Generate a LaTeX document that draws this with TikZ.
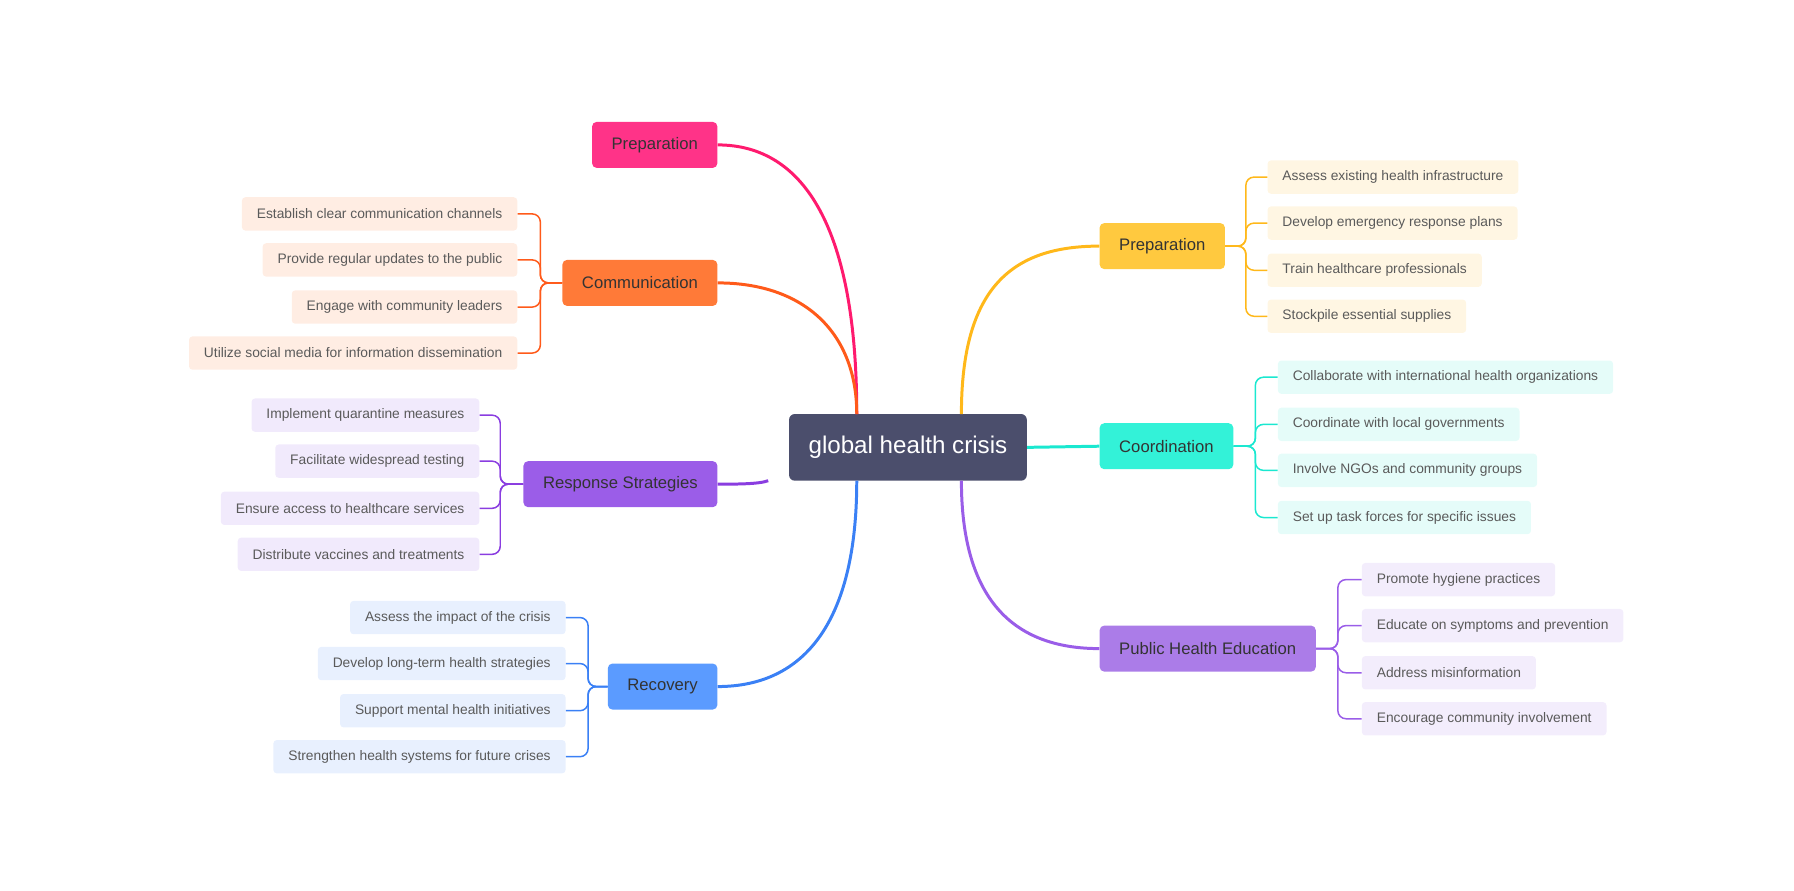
\documentclass[tikz,border=0pt]{standalone}
\usepackage{fontspec}
\setmainfont{Liberation Sans}
\begin{document}
\begin{tikzpicture}[x=1pt,y=-1pt,
 rootbox/.style={fill=rootc,rounded corners=5pt,text=white,font=\fontsize{21}{24}\selectfont,minimum height=58pt,inner xsep=17pt},
 branch/.style={fill=#1,rounded corners=4pt,text=txt,font=\fontsize{14.5}{17}\selectfont,minimum height=40pt,inner xsep=17pt},
 leaf/.style={fill=#1,rounded corners=3pt,text=leaftxt,font=\fontsize{12}{14}\selectfont,minimum height=29pt,inner xsep=13pt},
 conn/.style={draw=#1,line width=1.3pt,rounded corners=7pt},
 curve/.style={draw=#1,line width=2.6pt}]
\definecolor{rootc}{HTML}{4B4E6C}
\definecolor{txt}{HTML}{333333}
\definecolor{leaftxt}{HTML}{5A5A5A}
\definecolor{cpink}{HTML}{FF3388}
\definecolor{corange}{HTML}{FF7A38}
\definecolor{cpurple}{HTML}{9B5DE8}
\definecolor{cblue}{HTML}{5B9BFF}
\definecolor{cyellow}{HTML}{FFC93F}
\definecolor{ccyan}{HTML}{33F2D8}
\definecolor{cphe}{HTML}{AB7CE8}
\definecolor{lorange}{HTML}{FFEDE3}
\definecolor{lpurple}{HTML}{F1EAFC}
\definecolor{lblue}{HTML}{E8F0FE}
\definecolor{lyellow}{HTML}{FFF6E3}
\definecolor{lcyan}{HTML}{E5FCF9}
\definecolor{lphe}{HTML}{F3EDFC}
\definecolor{kpink}{HTML}{FF1A6E}
\definecolor{korange}{HTML}{FF5A1A}
\definecolor{kpurple}{HTML}{8A3DE0}
\definecolor{kblue}{HTML}{3A80F5}
\definecolor{kyellow}{HTML}{FFB81A}
\definecolor{kcyan}{HTML}{1AE8D0}
\definecolor{kphe}{HTML}{9A5DE8}
\useasboundingbox (0,0) rectangle (1560,774);

\node[rootbox] (root) at (789.5,389) {global health crisis};
\coordinate (rtl) at (745,360);
\coordinate (rbl) at (745,418);
\coordinate (rl) at (668,418);
\coordinate (rtr) at (836,360);
\coordinate (rbr) at (836,418);

\node[branch=cpink,anchor=east] (p1) at (624,126) {Preparation};
\node[branch=corange,anchor=east] (com) at (624,246) {Communication};
\node[branch=cpurple,anchor=east] (rs) at (624,421) {Response Strategies};
\node[branch=cblue,anchor=east] (rec) at (624,597) {Recovery};
\node[branch=cyellow,anchor=west] (p2) at (956,214) {Preparation};
\node[branch=ccyan,anchor=west] (co) at (956,388) {Coordination};
\node[branch=cphe,anchor=west] (phe) at (956,564) {Public Health Education};

\draw[curve=kpink] (rtl) .. controls (745,200) and (700,126) .. (p1.east);
\draw[curve=korange] (rtl) .. controls (745,290) and (700,246) .. (com.east);
\draw[curve=kpurple] (rl) .. controls (660,421) and (640,421) .. (rs.east);
\draw[curve=kblue] (rbl) .. controls (745,540) and (700,597) .. (rec.east);
\draw[curve=kyellow] (rtr) .. controls (836,250) and (880,214) .. (p2.west);
\draw[curve=kcyan] (root.east) -- (co.west);
\draw[curve=kphe] (rbr) .. controls (836,520) and (880,564) .. (phe.west);

% Communication
\node[leaf=lorange,anchor=east] (c1) at (450,186) {Establish clear communication channels};
\node[leaf=lorange,anchor=east] (c2) at (450,226) {Provide regular updates to the public};
\node[leaf=lorange,anchor=east] (c3) at (450,267) {Engage with community leaders};
\node[leaf=lorange,anchor=east] (c4) at (450,307) {Utilize social media for information dissemination};
\foreach \l in {c1,c2,c3,c4} \draw[conn=korange] (com.west) -- ++(-19,0) |- (\l.east);
% Response
\node[leaf=lpurple,anchor=east] (r1) at (417,361) {Implement quarantine measures};
\node[leaf=lpurple,anchor=east] (r2) at (417,401) {Facilitate widespread testing};
\node[leaf=lpurple,anchor=east] (r3) at (417,442) {Ensure access to healthcare services};
\node[leaf=lpurple,anchor=east] (r4) at (417,482) {Distribute vaccines and treatments};
\foreach \l in {r1,r2,r3,r4} \draw[conn=kpurple] (rs.west) -- ++(-20,0) |- (\l.east);
% Recovery
\node[leaf=lblue,anchor=east] (v1) at (492,537) {Assess the impact of the crisis};
\node[leaf=lblue,anchor=east] (v2) at (492,577) {Develop long-term health strategies};
\node[leaf=lblue,anchor=east] (v3) at (492,618) {Support mental health initiatives};
\node[leaf=lblue,anchor=east] (v4) at (492,658) {Strengthen health systems for future crises};
\foreach \l in {v1,v2,v3,v4} \draw[conn=kblue] (rec.west) -- ++(-17,0) |- (\l.east);
% Preparation right
\node[leaf=lyellow,anchor=west] (y1) at (1102,154) {Assess existing health infrastructure};
\node[leaf=lyellow,anchor=west] (y2) at (1102,194) {Develop emergency response plans};
\node[leaf=lyellow,anchor=west] (y3) at (1102,235) {Train healthcare professionals};
\node[leaf=lyellow,anchor=west] (y4) at (1102,275) {Stockpile essential supplies};
\foreach \l in {y1,y2,y3,y4} \draw[conn=kyellow] (p2.east) -- ++(18,0) |- (\l.west);
% Coordination
\node[leaf=lcyan,anchor=west] (k1) at (1111,328) {Collaborate with international health organizations};
\node[leaf=lcyan,anchor=west] (k2) at (1111,369) {Coordinate with local governments};
\node[leaf=lcyan,anchor=west] (k3) at (1111,409) {Involve NGOs and community groups};
\node[leaf=lcyan,anchor=west] (k4) at (1111,450) {Set up task forces for specific issues};
\foreach \l in {k1,k2,k3,k4} \draw[conn=kcyan] (co.east) -- ++(19,0) |- (\l.west);
% PHE
\node[leaf=lphe,anchor=west] (h1) at (1184,504) {Promote hygiene practices};
\node[leaf=lphe,anchor=west] (h2) at (1184,544) {Educate on symptoms and prevention};
\node[leaf=lphe,anchor=west] (h3) at (1184,585) {Address misinformation};
\node[leaf=lphe,anchor=west] (h4) at (1184,625) {Encourage community involvement};
\foreach \l in {h1,h2,h3,h4} \draw[conn=kphe] (phe.east) -- ++(19,0) |- (\l.west);
\end{tikzpicture}
\end{document}
